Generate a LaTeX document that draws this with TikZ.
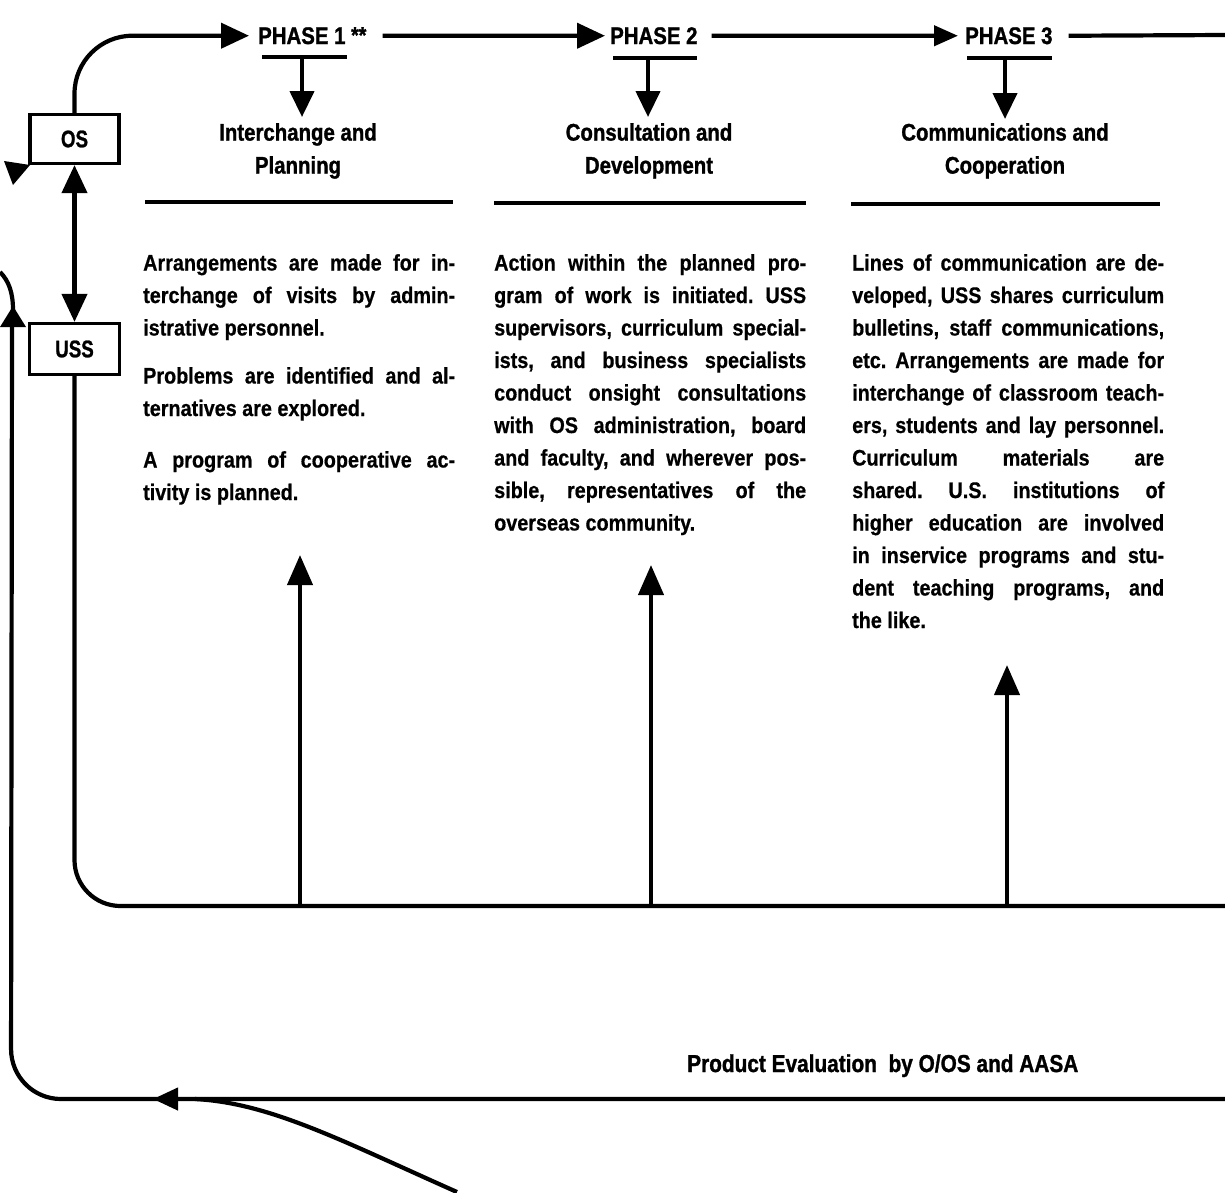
\documentclass[tikz,border=0pt]{standalone}
\usepackage{fontspec}
\usetikzlibrary{arrows.meta}
\newfontfamily\bodyfam[FakeStretch=0.88,FakeBold=0.6]{Liberation Sans}
\newfontfamily\headfam[FakeStretch=0.85,FakeBold=1.2]{Liberation Sans}
\newfontfamily\boxfam[FakeStretch=0.78,FakeBold=1]{Liberation Sans}
\newcommand\jline[1]{\makebox[312pt][s]{#1}}
\newcommand\eline[1]{\makebox[312pt][l]{#1}}
\frenchspacing
\tikzset{
  conn/.style={line width=4.2pt},
  rulestyle/.style={line width=3.2pt},
  boxstyle/.style={draw,line width=3.2pt,inner sep=0pt,font=\boxfam\bfseries\fontsize{24}{28}\selectfont},
  phasestyle/.style={inner sep=0pt,anchor=base west,font=\headfam\bfseries\fontsize{24}{28}\selectfont},
  headstyle/.style={inner sep=0pt,anchor=north,align=center,font=\headfam\bfseries\fontsize{24}{33}\selectfont},
  bodystyle/.style={inner sep=0pt,anchor=north west,align=left,font=\bodyfam\bfseries\fontsize{22.5}{32.5}\selectfont\frenchspacing},
  tipA/.tip={Triangle[width=25pt,length=28pt]},
  tipS/.tip={Triangle[width=20pt,length=24pt]},
  tipD/.tip={Triangle[width=24pt,length=26pt]},
  tipU/.tip={Triangle[width=25pt,length=30pt]},
  tipB/.tip={Triangle[width=25pt,length=28pt]},
}
\begin{document}
\begin{tikzpicture}[x=1pt,y=-1pt]
\useasboundingbox (0,0) rectangle (1225,1192);
\fill[white] (0,0) rectangle (1225,1192);

% boxes
\node[boxstyle,minimum width=89pt,minimum height=49pt] (os) at (74.5,139) {OS};
\node[boxstyle,minimum width=90pt,minimum height=51pt] (uss) at (74.5,349) {USS};

% phase labels
\node[phasestyle] (p1) at (258,44) {PHASE 1\ \raisebox{1pt}{\fontsize{23}{24}\selectfont **}};
\node[phasestyle] (p2) at (610,44) {PHASE 2};
\node[phasestyle] (p3) at (965,44) {PHASE 3};
\coordinate (edgeR) at (1225,35);

% underlines and down arrows
\coordinate (u1) at (302,57);
\coordinate (u2) at (648,58);
\coordinate (u3) at (1005,58);
\draw[rulestyle] (262,57) -- (347,57);
\draw[rulestyle] (613,58) -- (697,58);
\draw[rulestyle] (967,58) -- (1052,58);

% headings
\node[headstyle] (h1) at (298,123) {Interchange and\\Planning};
\node[headstyle] (h2) at (649,123) {Consultation and\\Development};
\node[headstyle] (h3) at (1005,123) {Communications and\\Cooperation};

\draw[conn,-{tipD}] (u1) -- ([yshift=6pt]u1 |- h1.north);
\draw[conn,-{tipD}] (u2) -- ([yshift=6pt]u2 |- h2.north);
\draw[conn,-{tipD}] (u3) -- ([yshift=4pt]u3 |- h3.north);

% heading rules
\draw[rulestyle] (145,202) -- (453,202);
\draw[rulestyle] (494,203) -- (806,203);
\draw[rulestyle] (851,204) -- (1160,204);

% body text
\node[bodystyle] (b1) at (143,254) {%
\jline{Arrangements are made for in-}\\
\jline{terchange of visits by admin-}\\
\eline{istrative personnel.}\\[15.5pt]
\jline{Problems are identified and al-}\\
\eline{ternatives are explored.}\\[19pt]
\jline{A program of cooperative ac-}\\
\eline{tivity is planned.}};
\node[bodystyle] (b2) at (494,254) {%
\jline{Action within the planned pro-}\\
\jline{gram of work is initiated. USS}\\
\jline{supervisors, curriculum special-}\\
\jline{ists, and business specialists}\\
\jline{conduct onsight consultations}\\
\jline{with OS administration, board}\\
\jline{and faculty, and wherever pos-}\\
\jline{sible, representatives of the}\\
\eline{overseas community.}};
\node[bodystyle] (b3) at (852,254) {%
\jline{Lines of communication are de-}\\
\jline{veloped, USS shares curriculum}\\
\jline{bulletins, staff communications,}\\
\jline{etc. Arrangements are made for}\\
\jline{interchange of classroom teach-}\\
\jline{ers, students and lay personnel.}\\
\jline{Curriculum materials are}\\
\jline{shared. U.S. institutions of}\\
\jline{higher education are involved}\\
\jline{in inservice programs and stu-}\\
\jline{dent teaching programs, and}\\
\eline{the like.}};

% top flow
\draw[conn,-{tipA},rounded corners=58pt] (os.north) |- ([xshift=-9pt]p1.west);
\draw[conn,-{tipA}] ([xshift=16pt]p1.east) -- ([xshift=-5pt]p2.west);
\draw[conn,-{tipS}] ([xshift=14pt]p2.east) -- ([xshift=-7pt]p3.west);
\draw[conn] ([xshift=16pt]p3.east) -- (edgeR);

% OS <-> USS
\draw[conn,{tipB}-{tipB}] (os.south) -- (uss.north);

% feedback loop from the bottom
\coordinate (f1) at (300,906);
\coordinate (f2) at (651,906);
\coordinate (f3) at (1007,906);
\coordinate (edgeL) at (1225,906);
\draw[conn,rounded corners=46pt] (uss.south) |- (edgeL);
\coordinate (a1) at (300,555);
\coordinate (a2) at (651,565);
\coordinate (a3) at (1007,665);
\draw[conn,-{tipU}] (f1) -- (a1);
\draw[conn,-{tipU}] (f2) -- (a2);
\draw[conn,-{tipU}] (f3) -- (a3);

% outer loop (product evaluation)
\node[phasestyle,font=\headfam\bfseries\fontsize{24.5}{28}\selectfont] (pe) at (687,1072) {Product Evaluation\ \ by O/OS and AASA};
\coordinate (bR) at (1225,1099);
\coordinate (bL) at (11,1099);
\coordinate (lt) at (12,322);
\draw[conn,rounded corners=50pt] (bR) -- (bL) -- (lt);
\fill (0,327) -- (13,306) -- (26,327) -- cycle;
\coordinate (ah0) at (212,1099);
\coordinate (ah1) at (153,1099);
\draw[conn,-{Triangle[width=22pt,length=25pt]}] (ah0) -- (ah1);
\coordinate (cv0) at (457,1192);
\coordinate (cv1) at (195,1099);
\draw[conn] (cv0) .. controls (340,1140) and (270,1103) .. (cv1);

% left fragments
\coordinate (lc0) at (0,272);
\coordinate (lc1) at (13,310);
\draw[conn] (lc0) .. controls (9,281) and (13,293) .. (lc1);
\fill (4,161) -- (30,165) -- (13,185) -- cycle;
\end{tikzpicture}
\end{document}
